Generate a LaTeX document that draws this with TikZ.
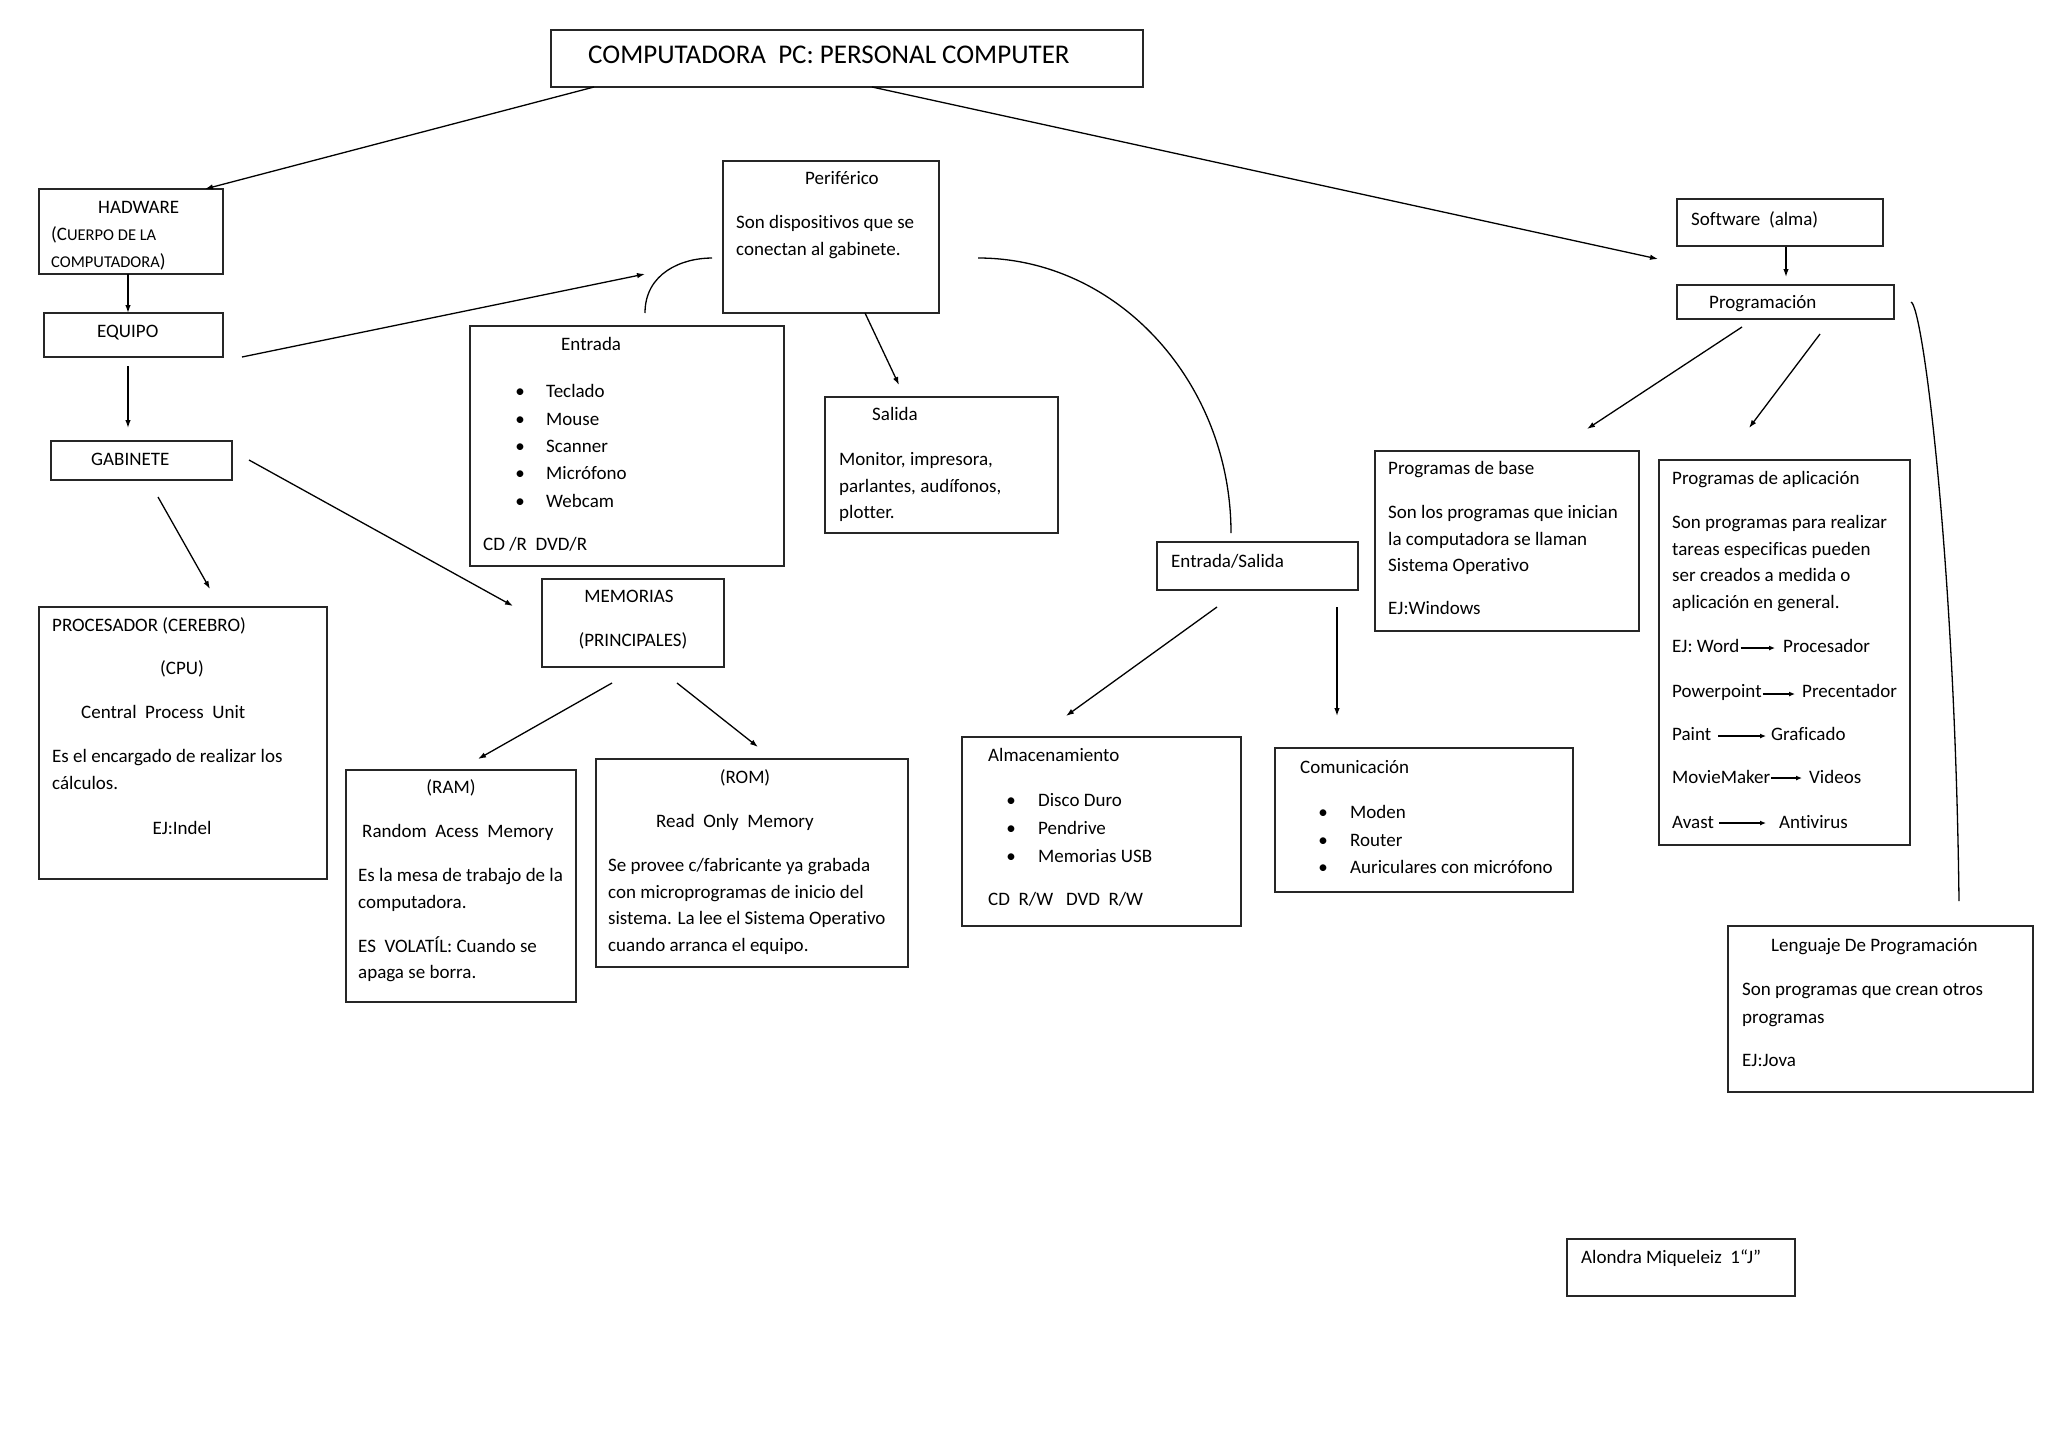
\documentclass[tikz,border=0pt]{standalone}
\usepackage{fontspec}
\setmainfont[Ligatures=NoCommon]{Carlito}
\usetikzlibrary{arrows.meta,calc}
\begin{document}
\begin{tikzpicture}[x=1pt,y=-1pt,
  box/.style={draw=black!85, line width=1.6pt, anchor=north west, inner sep=0pt, outer sep=0pt},
  txt/.style={anchor=base west, inner sep=0pt, font=\fontsize{19}{23}\selectfont},
  ctxt/.style={anchor=base, inner sep=0pt, font=\fontsize{19}{23}\selectfont},
  bul/.style={anchor=base, inner sep=0pt, font=\fontsize{19}{23}\selectfont},
  arr/.style={line width=1.3pt, -{Latex[length=8pt,width=5.5pt]}},
  sarr/.style={line width=1.3pt, -{Latex[length=6pt,width=5pt]}},
  ln/.style={line width=1.3pt}]
\useasboundingbox[fill=white] (0,0) rectangle (2048,1448);
\newcommand{\smc}{\fontsize{16.5}{20}\selectfont}

% ---------- boxes ----------
\node[box, minimum width=592pt, minimum height=57pt]  (title) at (551,30) {};
\node[box, minimum width=184pt, minimum height=85pt]  (hw)    at (39,189) {};
\node[box, minimum width=179pt, minimum height=44pt]  (eq)    at (44,313) {};
\node[box, minimum width=181pt, minimum height=39pt]  (gab)   at (51,441) {};
\node[box, minimum width=288pt, minimum height=272pt] (proc)  at (39,607) {};
\node[box, minimum width=216pt, minimum height=152pt] (peri)  at (723,161) {};
\node[box, minimum width=314pt, minimum height=240pt] (ent)   at (470,326) {};
\node[box, minimum width=233pt, minimum height=136pt] (sal)   at (825,397) {};
\node[box, minimum width=182pt, minimum height=88pt]  (mem)   at (542,579) {};
\node[box, minimum width=230pt, minimum height=232pt] (ram)   at (346,770) {};
\node[box, minimum width=312pt, minimum height=208pt] (rom)   at (596,759) {};
\node[box, minimum width=201pt, minimum height=48pt]  (es)    at (1157,542) {};
\node[box, minimum width=279pt, minimum height=189pt] (alm)   at (962,737) {};
\node[box, minimum width=298pt, minimum height=144pt] (com)   at (1275,748) {};
\node[box, minimum width=206pt, minimum height=47pt]  (sw)    at (1677,199) {};
\node[box, minimum width=217pt, minimum height=34pt]  (prog)  at (1677,285) {};
\node[box, minimum width=264pt, minimum height=180pt] (pbase) at (1375,451) {};
\node[box, minimum width=251pt, minimum height=385pt] (papl)  at (1659,460) {};
\node[box, minimum width=305pt, minimum height=166pt] (leng)  at (1728,926) {};
\node[box, minimum width=228pt, minimum height=57pt]  (alon)  at (1567,1239) {};

% ---------- texts ----------
\node[txt, font=\fontsize{27}{32}\selectfont] (t0) at (588,63) {COMPUTADORA\ \ PC: PERSONAL COMPUTER};

\node[txt] (hw1) at (98,213) {HADWARE};
\node[txt] (hw2) at (51,240) {(C{\smc UERPO DE LA}};
\node[txt] (hw3) at (51,267) {{\smc COMPUTADORA})};

\node[txt] (eq1) at (97,337) {EQUIPO};
\node[txt] (gab1) at (91,465) {GABINETE};

\node[txt]  (pr1) at (52,631) {PROCESADOR (CEREBRO)};
\node[ctxt] (pr2) at (182,674) {(CPU)};
\node[txt]  (pr3) at (81,718) {Central\ \ Process\ \ Unit};
\node[txt]  (pr4) at (52,762) {Es el encargado de realizar los};
\node[txt]  (pr5) at (52,789) {cálculos.};
\node[ctxt] (pr6) at (182,834) {EJ:Indel};

\node[txt] (pe1) at (805,184) {Periférico};
\node[txt] (pe2) at (736,228) {Son dispositivos que se};
\node[txt] (pe3) at (736,255) {conectan al gabinete.};

\node[txt] (en0) at (561,350) {Entrada};
\node[bul] (enb1) at (520,397) {•}; \node[txt] (en1) at (546,397) {Teclado};
\node[bul] (enb2) at (520,425) {•}; \node[txt] (en2) at (546,425) {Mouse};
\node[bul] (enb3) at (520,452) {•}; \node[txt] (en3) at (546,452) {Scanner};
\node[bul] (enb4) at (520,479) {•}; \node[txt] (en4) at (546,479) {Micrófono};
\node[bul] (enb5) at (520,507) {•}; \node[txt] (en5) at (546,507) {Webcam};
\node[txt] (en6) at (483,550) {CD /R\ \ DVD/R};

\node[txt] (sa0) at (872,420) {Salida};
\node[txt] (sa1) at (839,465) {Monitor, impresora,};
\node[txt] (sa2) at (839,492) {parlantes, audífonos,};
\node[txt] (sa3) at (839,518) {plotter.};

\node[ctxt] (me1) at (629,602) {MEMORIAS};
\node[ctxt] (me2) at (633,646) {(PRINCIPALES)};

\node[ctxt] (ra0) at (451,793) {(RAM)};
\node[txt]  (ra1) at (362,837) {Random\ \ Acess\ \ Memory};
\node[txt]  (ra2) at (358,881) {Es la mesa de trabajo de la};
\node[txt]  (ra3) at (358,908) {computadora.};
\node[txt]  (ra4) at (358,952) {ES\ \ VOLATÍL: Cuando se};
\node[txt]  (ra5) at (358,978) {apaga se borra.};

\node[ctxt] (ro0) at (745,783) {(ROM)};
\node[txt]  (ro1) at (656,827) {Read\ \ Only\ \ Memory};
\node[txt]  (ro2) at (608,871) {Se provee c/fabricante ya grabada};
\node[txt]  (ro3) at (608,898) {con microprogramas de inicio del};
\node[txt]  (ro4) at (608,924) {sistema. La lee el Sistema Operativo};
\node[txt]  (ro5) at (608,951) {cuando arranca el equipo.};

\node[txt] (es1) at (1171,567) {Entrada/Salida};

\node[txt] (al0) at (988,761) {Almacenamiento};
\node[bul] (alb1) at (1011,806) {•}; \node[txt] (al1) at (1038,806) {Disco Duro};
\node[bul] (alb2) at (1011,834) {•}; \node[txt] (al2) at (1038,834) {Pendrive};
\node[bul] (alb3) at (1011,862) {•}; \node[txt] (al3) at (1038,862) {Memorias USB};
\node[txt] (al4) at (988,905) {CD\ \ R/W\ \ \ DVD\ \ R/W};

\node[txt] (co0) at (1300,773) {Comunicación};
\node[bul] (cob1) at (1323,818) {•}; \node[txt] (co1) at (1350,818) {Moden};
\node[bul] (cob2) at (1323,846) {•}; \node[txt] (co2) at (1350,846) {Router};
\node[bul] (cob3) at (1323,873) {•}; \node[txt] (co3) at (1350,873) {Auriculares con micrófono};

\node[txt] (sw1) at (1691,225) {Software\ \ (alma)};
\node[txt] (pg1) at (1709,308) {Programación};

\node[txt] (pb0) at (1388,474) {Programas de base};
\node[txt] (pb1) at (1388,518) {Son los programas que inician};
\node[txt] (pb2) at (1388,545) {la computadora se llaman};
\node[txt] (pb3) at (1388,571) {Sistema Operativo};
\node[txt] (pb4) at (1388,614) {EJ:Windows};

\node[txt] (pa0) at (1672,484) {Programas de aplicación};
\node[txt] (pa1) at (1672,528) {Son programas para realizar};
\node[txt] (pa2) at (1672,555) {tareas especificas pueden};
\node[txt] (pa3) at (1672,581) {ser creados a medida o};
\node[txt] (pa4) at (1672,608) {aplicación en general.};
\node[txt] (w1) at (1672,652) {EJ: Word};    \node[txt] (v1) at (1783,652) {Procesador};
\node[txt] (w2) at (1672,697) {Powerpoint};  \node[txt] (v2) at (1802,697) {Precentador};
\node[txt] (w3) at (1672,740) {Paint};       \node[txt] (v3) at (1771,740) {Graficado};
\node[txt] (w4) at (1672,783) {MovieMaker};  \node[txt] (v4) at (1809,783) {Videos};
\node[txt] (w5) at (1672,828) {Avast};       \node[txt] (v5) at (1779,828) {Antivirus};
\draw[sarr] ($(w1.base east)+(1,-4)$) -- ($(v1.base west)+(-8,-4)$);
\draw[sarr] ($(w2.base east)+(1,-3)$) -- ($(v2.base west)+(-7,-3)$);
\draw[sarr] ($(w3.base east)+(7,-4)$) -- ($(v3.base west)+(-5,-4)$);
\draw[sarr] ($(w4.base east)+(1,-5)$) -- ($(v4.base west)+(-7,-5)$);
\draw[sarr] ($(w5.base east)+(5,-5)$) -- ($(v5.base west)+(-13,-5)$);

\node[txt] (le0) at (1771,951) {Lenguaje De Programación};
\node[txt] (le1) at (1742,995) {Son programas que crean otros};
\node[txt] (le2) at (1742,1023) {programas};
\node[txt] (le3) at (1742,1066) {EJ:Jova};

\node[txt] (ao1) at (1581,1263) {Alondra Miqueleiz\ \ 1“J”};

% ---------- connectors ----------
\draw[arr] ($(title.south west)+(43,0)$) -- ($(hw.north west)+(166,0)$);
\draw[arr] ($(title.south west)+(321,0)$) -- ($(sw.south west)+(-19,13)$);
\draw[arr] ($(hw.south west)+(89,0)$) -- ($(eq.north west)+(84,0)$);
\draw[arr] ($(eq.south west)+(84,9)$) -- ($(gab.north west)+(77,-13)$);
\draw[arr] ($(eq.south east)+(19,0)$) -- ($(peri.north west)+(-78,113)$);
\draw[arr] ($(gab.south west)+(107,17)$) -- ($(proc.north west)+(171,-18)$);
\draw[arr] ($(gab.north east)+(17,19)$) -- ($(mem.north west)+(-29,27)$);
\draw[arr] ($(mem.south west)+(70,16)$) -- ($(ram.north west)+(132,-11)$);
\draw[arr] ($(mem.south west)+(135,16)$) -- ($(rom.north west)+(162,-12)$);
\draw[arr] ($(peri.south west)+(142,0)$) -- ($(sal.north west)+(74,-12)$);
\draw[ln] ($(ent.north west)+(175,-13)$) .. controls +(0,-40) and +(-30,0) .. ($(peri.north west)+(-11,97)$);
\draw[ln] ($(peri.north east)+(39,97)$) .. controls +(140,0) and +(0,-150) .. ($(es.north west)+(74,-9)$);
\draw[ln] ($(prog.north east)+(17,17)$) .. controls +(12,4) and +(-4,-340) .. ($(leng.north west)+(231,-25)$);
\draw[arr] ($(sw.south west)+(109,1)$) -- ($(prog.north west)+(109,-8)$);
\draw[arr] ($(prog.south west)+(65,8)$) -- ($(pbase.north west)+(212,-22)$);
\draw[arr] ($(prog.south west)+(143,15)$) -- ($(papl.north west)+(90,-32)$);
\draw[arr] ($(es.south west)+(60,17)$) -- ($(alm.north west)+(104,-21)$);
\draw[arr] ($(es.south west)+(180,17)$) -- ($(com.north west)+(62,-32)$);
\end{tikzpicture}
\end{document}
